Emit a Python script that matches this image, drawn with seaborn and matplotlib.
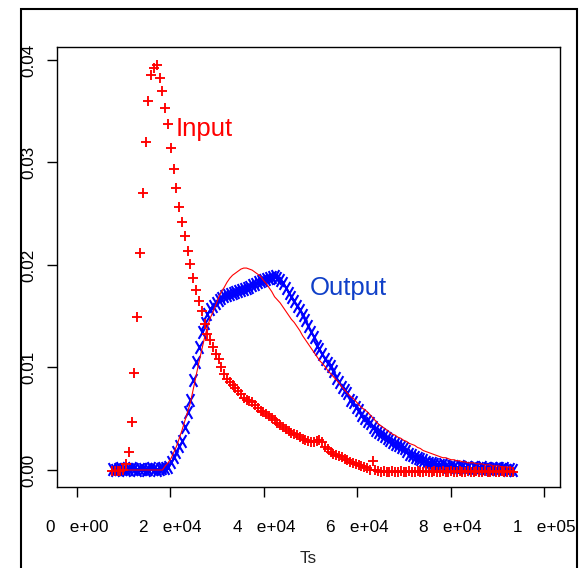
import pandas as pd
import numpy as np
import matplotlib
matplotlib.use("Agg")
import matplotlib.pyplot as plt
from matplotlib.patches import Rectangle
from matplotlib.path import Path
import seaborn as sns

# sampling times (Ts)
ts = [7500, 8100, 8700, 9300, 9900, 10500, 11100, 11700, 12300, 12900, 13500, 14100,
      14700, 15300, 15900, 16500, 17100, 17700, 18300, 18900, 19500, 20100, 20700, 21300,
      21900, 22500, 23100, 23700, 24300, 24900, 25500, 26100, 26700, 27300, 27900, 28500,
      29100, 29700, 30300, 30900, 31500, 32100, 32700, 33300, 33900, 34500, 35100, 35700,
      36300, 36900, 37500, 38100, 38700, 39300, 39900, 40500, 41100, 41700, 42300, 42900,
      43500, 44100, 44700, 45300, 45900, 46500, 47100, 47700, 48300, 48900, 49500, 50100,
      50700, 51300, 51900, 52500, 53100, 53700, 54300, 54900, 55500, 56100, 56700, 57300,
      57900, 58500, 59100, 59700, 60300, 60900, 61500, 62100, 62700, 63300, 63900, 64500,
      65100, 65700, 66300, 66900, 67500, 68100, 68700, 69300, 69900, 70500, 71100, 71700,
      72300, 72900, 73500, 74100, 74700, 75300, 75900, 76500, 77100, 77700, 78300, 78900,
      79500, 80100, 80700, 81300, 81900, 82500, 83100, 83700, 84300, 84900, 85500, 86100,
      86700, 87300, 87900, 88500, 89100, 89700, 90300, 90900, 91500, 92100, 92700, 93300]

input_vals = [-0.0001, -0.0001, -0.0001, -0.0001, 0.0000, 0.0006, 0.0018, 0.0047, 0.0095, 0.0149, 0.0212, 0.0270,
              0.0320, 0.0360, 0.0385, 0.0392, 0.0395, 0.0382, 0.0370, 0.0353, 0.0338, 0.0314, 0.0294, 0.0275,
              0.0257, 0.0242, 0.0228, 0.0214, 0.0201, 0.0187, 0.0176, 0.0165, 0.0155, 0.0142, 0.0133, 0.0127,
              0.0120, 0.0113, 0.0108, 0.0100, 0.0094, 0.0089, 0.0086, 0.0083, 0.0080, 0.0077, 0.0074, 0.0070,
              0.0068, 0.0067, 0.0066, 0.0063, 0.0060, 0.0058, 0.0057, 0.0055, 0.0053, 0.0051, 0.0049, 0.0046,
              0.0044, 0.0042, 0.0040, 0.0038, 0.0036, 0.0035, 0.0034, 0.0032, 0.0030, 0.0029, 0.0028, 0.0027,
              0.0027, 0.0028, 0.0029, 0.0027, 0.0022, 0.0020, 0.0018, 0.0016, 0.0015, 0.0014, 0.0013, 0.0011,
              0.0010, 0.0008, 0.0007, 0.0006, 0.0005, 0.0004, 0.0003, 0.0002, 0.0000, 0.0009, 0.0000, -0.0001,
              -0.0002, -0.0001, -0.0002, -0.0002, -0.0001, -0.0002, -0.0002, -0.0001, -0.0002, -0.0002, -0.0001, -0.0002,
              -0.0002, -0.0001, -0.0002, -0.0002, -0.0001, -0.0002, -0.0002, -0.0001, -0.0002, -0.0002, -0.0001, -0.0002,
              -0.0002, -0.0001, -0.0002, -0.0002, -0.0001, -0.0002, -0.0002, -0.0001, -0.0002, -0.0002, -0.0001, -0.0002,
              -0.0002, -0.0001, -0.0002, -0.0002, -0.0001, -0.0002, -0.0002, -0.0001, -0.0002, -0.0002, -0.0001, -0.0002]

output_vals = [0.0001, 0.0000, 0.0001, 0.0002, 0.0001, 0.0000, 0.0001, 0.0002, 0.0001, 0.0000, 0.0001, 0.0001,
               0.0000, 0.0001, 0.0002, 0.0001, 0.0000, 0.0001, 0.0002, 0.0002, 0.0003, 0.0008, 0.0013, 0.0018,
               0.0023, 0.0028, 0.0042, 0.0057, 0.0068, 0.0088, 0.0105, 0.0120, 0.0135, 0.0143, 0.0152, 0.0157,
               0.0160, 0.0163, 0.0166, 0.0168, 0.0170, 0.0171, 0.0172, 0.0173, 0.0174, 0.0175, 0.0176, 0.0177,
               0.0178, 0.0179, 0.0180, 0.0181, 0.0183, 0.0184, 0.0185, 0.0186, 0.0187, 0.0188, 0.0189, 0.0187,
               0.0185, 0.0182, 0.0178, 0.0173, 0.0169, 0.0165, 0.0160, 0.0156, 0.0151, 0.0146, 0.0140, 0.0135,
               0.0130, 0.0121, 0.0118, 0.0113, 0.0108, 0.0104, 0.0101, 0.0097, 0.0090, 0.0086, 0.0081, 0.0078,
               0.0075, 0.0068, 0.0066, 0.0061, 0.0059, 0.0054, 0.0051, 0.0048, 0.0046, 0.0042, 0.0039, 0.0037,
               0.0035, 0.0033, 0.0031, 0.0029, 0.0027, 0.0025, 0.0024, 0.0022, 0.0021, 0.0019, 0.0016, 0.0015,
               0.0013, 0.0012, 0.0011, 0.0010, 0.0008, 0.0007, 0.0007, 0.0006, 0.0005, 0.0005, 0.0006, 0.0004,
               0.0003, 0.0004, 0.0003, 0.0002, 0.0004, 0.0003, 0.0002, 0.0003, 0.0001, 0.0003, 0.0002, 0.0002,
               0.0003, 0.0001, 0.0002, 0.0001, 0.0002, 0.0001, 0.0002, 0.0001, 0.0002, 0.0000, 0.0001, 0.0000]

# fitted model (red line)
model_vals = [0.0, 0.0, 0.0, 0.0, 0.0, 0.0, 0.0, 0.0, 0.0, 0.0, 0.0, 0.0,
              0.0, 0.0, 0.0, 0.0, 0.0, 0.0, 0.0, 0.0004, 0.0007, 0.0011, 0.0017, 0.0023,
              0.0031, 0.0039, 0.0048, 0.0057, 0.0066, 0.0079, 0.0092, 0.0105, 0.0117, 0.0129, 0.0139, 0.0148,
              0.0154, 0.0161, 0.0168, 0.0174, 0.0178, 0.0183, 0.0187, 0.0190, 0.0192, 0.0194, 0.0196, 0.0197,
              0.0197, 0.0196, 0.0195, 0.0193, 0.0191, 0.0189, 0.0185, 0.0182, 0.0178, 0.0174, 0.0169, 0.0166,
              0.0163, 0.0159, 0.0155, 0.0151, 0.0147, 0.0144, 0.0140, 0.0136, 0.0131, 0.0127, 0.0123, 0.0119,
              0.0115, 0.0111, 0.0107, 0.0104, 0.0101, 0.0097, 0.0094, 0.0091, 0.0088, 0.0085, 0.0081, 0.0078,
              0.0075, 0.0072, 0.0070, 0.0067, 0.0064, 0.0061, 0.0059, 0.0057, 0.0054, 0.0051, 0.0048, 0.0045,
              0.0043, 0.0041, 0.0039, 0.0037, 0.0035, 0.0034, 0.0032, 0.0031, 0.0029, 0.0028, 0.0026, 0.0025,
              0.0024, 0.0022, 0.0021, 0.0019, 0.0018, 0.0017, 0.0016, 0.0015, 0.0014, 0.0013, 0.0012, 0.0012,
              0.0011, 0.0010, 0.0010, 0.0009, 0.0009, 0.0008, 0.0008, 0.0007, 0.0007, 0.0007, 0.0006, 0.0006,
              0.0006, 0.0005, 0.0005, 0.0005, 0.0004, 0.0004, 0.0004, 0.0003, 0.0003, 0.0003, 0.0002, 0.0002]

xticks = [0, 20000, 40000, 60000, 80000, 100000]
xtick_labels = ["0   e+00", "2   e+04", "4   e+04", "6   e+04", "8   e+04", "1   e+05"]
yticks = [0.00, 0.01, 0.02, 0.03, 0.04]

df = pd.DataFrame({"Ts": ts, "Input": input_vals, "Output": output_vals, "Model": model_vals})

sns.set_style("ticks")
plt.rcParams['font.family'] = ['Liberation Sans', 'DejaVu Sans']

# tall, narrow "x" like the original R symbols
tall_x = Path([(-0.6, -1), (0.6, 1), (-0.6, 1), (0.6, -1)],
              [Path.MOVETO, Path.LINETO, Path.MOVETO, Path.LINETO])

fig = plt.figure(figsize=(5.82, 5.68), dpi=100)
ax = fig.add_axes([0.0979, 0.1426, 0.8643, 0.7747])

sns.scatterplot(data=df, x="Ts", y="Output", marker=tall_x, color="blue", edgecolor="blue",
                s=85, linewidth=1.5, ax=ax, zorder=2)
sns.scatterplot(data=df, x="Ts", y="Input", marker="+", color="red", s=52, linewidth=1.35, ax=ax, zorder=3)
sns.lineplot(data=df, x="Ts", y="Model", color="red", linewidth=0.8, ax=ax, zorder=4)

ax.text(27200, 0.0333, "Input", color="red", fontsize=18.5, ha="center", va="center")
ax.text(58000, 0.0178, "Output", color="#1040c8", fontsize=18.5, ha="center", va="center")

ax.set_xlim(-4280, 103400)
ax.set_ylim(-0.00166, 0.04127)
ax.set_xticks(xticks)
ax.set_xticklabels(xtick_labels)
ax.set_yticks(yticks)
ax.set_yticklabels([f"{v:.2f}" for v in yticks], rotation=90, va="center")
ax.tick_params(axis="both", direction="out", length=7, width=1, colors="black", labelsize=12.3)
ax.tick_params(axis="x", pad=17)
ax.tick_params(axis="y", pad=8)
ax.set_xlabel("Ts", fontsize=12.3, labelpad=11)
ax.set_ylabel("")
for sp in ax.spines.values():
    sp.set_visible(True)
    sp.set_color("black")
    sp.set_linewidth(1)

# outer figure frame
fig.add_artist(Rectangle((21 / 582, -0.05), 556 / 582, 1.05 - 9 / 568, transform=fig.transFigure,
                         fill=False, edgecolor="black", linewidth=1.5))

fig.savefig("out.png", dpi=100)
